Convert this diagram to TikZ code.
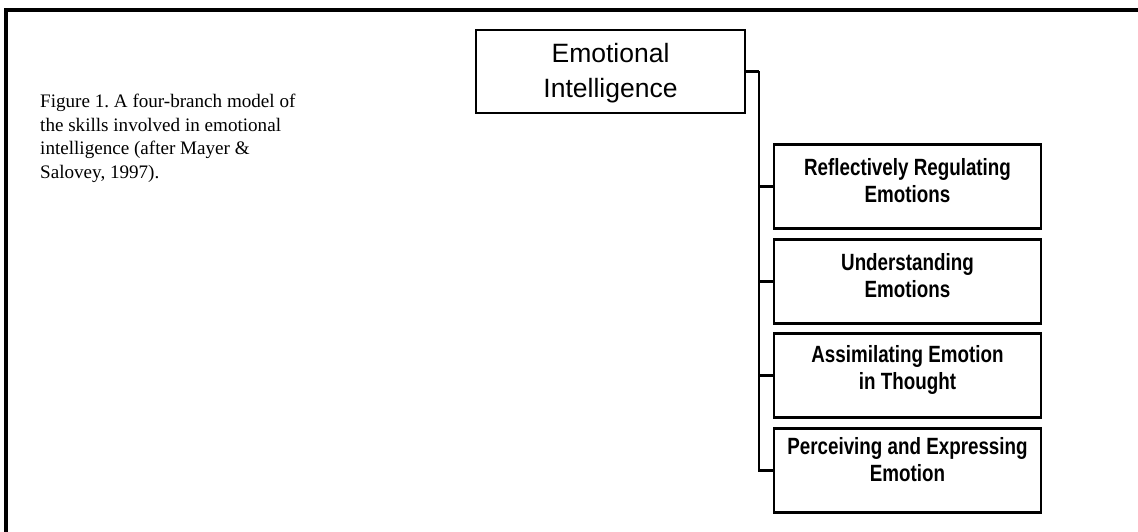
\documentclass[tikz,border=0pt]{standalone}
\usepackage{fontspec}
\setmainfont{Liberation Serif}
\newfontfamily\rootfont{Liberation Sans}
\newfontfamily\branchfont[FakeStretch=0.8]{Liberation Sans}
\newcommand{\liftup}[2]{\raisebox{#1}[\height][\depth]{\begin{tabular}{@{}c@{}}#2\end{tabular}}}
\frenchspacing
\tikzset{
  rootbox/.style={draw, line width=2.6pt, inner sep=0pt, minimum width=269pt, minimum height=83pt,
    font=\rootfont\fontsize{26.5}{35}\selectfont, align=center},
  branchbox/.style={draw, line width=2.6pt, inner sep=0pt, minimum width=267pt, minimum height=84pt,
    font=\branchfont\bfseries\fontsize{23.5}{27}\selectfont},
  conn/.style={line width=2.2pt},
  frameline/.style={line width=3.6pt},
  captiontext/.style={inner sep=0pt, align=left, font=\fontsize{19.1}{23.5}\selectfont}
}
\begin{document}
\begin{tikzpicture}[x=1pt,y=-1pt]
\useasboundingbox (0,0) rectangle (1138,532);
\draw[frameline] (1140,10) -- (6,10) -- (6,534);

\node[captiontext, anchor=north west] (cap) at (40,94)
  {Figure 1. A four-branch model of\\the skills involved in emotional\\intelligence (after Mayer \&\\Salovey, 1997).};

\node[rootbox] (root) at (610.5,71.5) {\liftup{-2pt}{Emotional\\Intelligence}};

\node[branchbox] (b1) at (907.5,186.5) {\liftup{3pt}{Reflectively Regulating\\Emotions}};
\node[branchbox] (b2) at (907.5,281.5) {\liftup{3pt}{Understanding\\Emotions}};
\node[branchbox] (b3) at (907.5,375.5) {\liftup{5pt}{Assimilating Emotion\\in Thought}};
\node[branchbox] (b4) at (907.5,470.5) {\liftup{8pt}{Perceiving and Expressing\\Emotion}};

\draw[conn] (root.east) -- ++(13,0) coordinate (trunk);
\draw[conn] (trunk) |- (b1.west);
\draw[conn] (trunk) |- (b2.west);
\draw[conn] (trunk) |- (b3.west);
\draw[conn] (trunk) |- (b4.west);
\end{tikzpicture}
\end{document}
